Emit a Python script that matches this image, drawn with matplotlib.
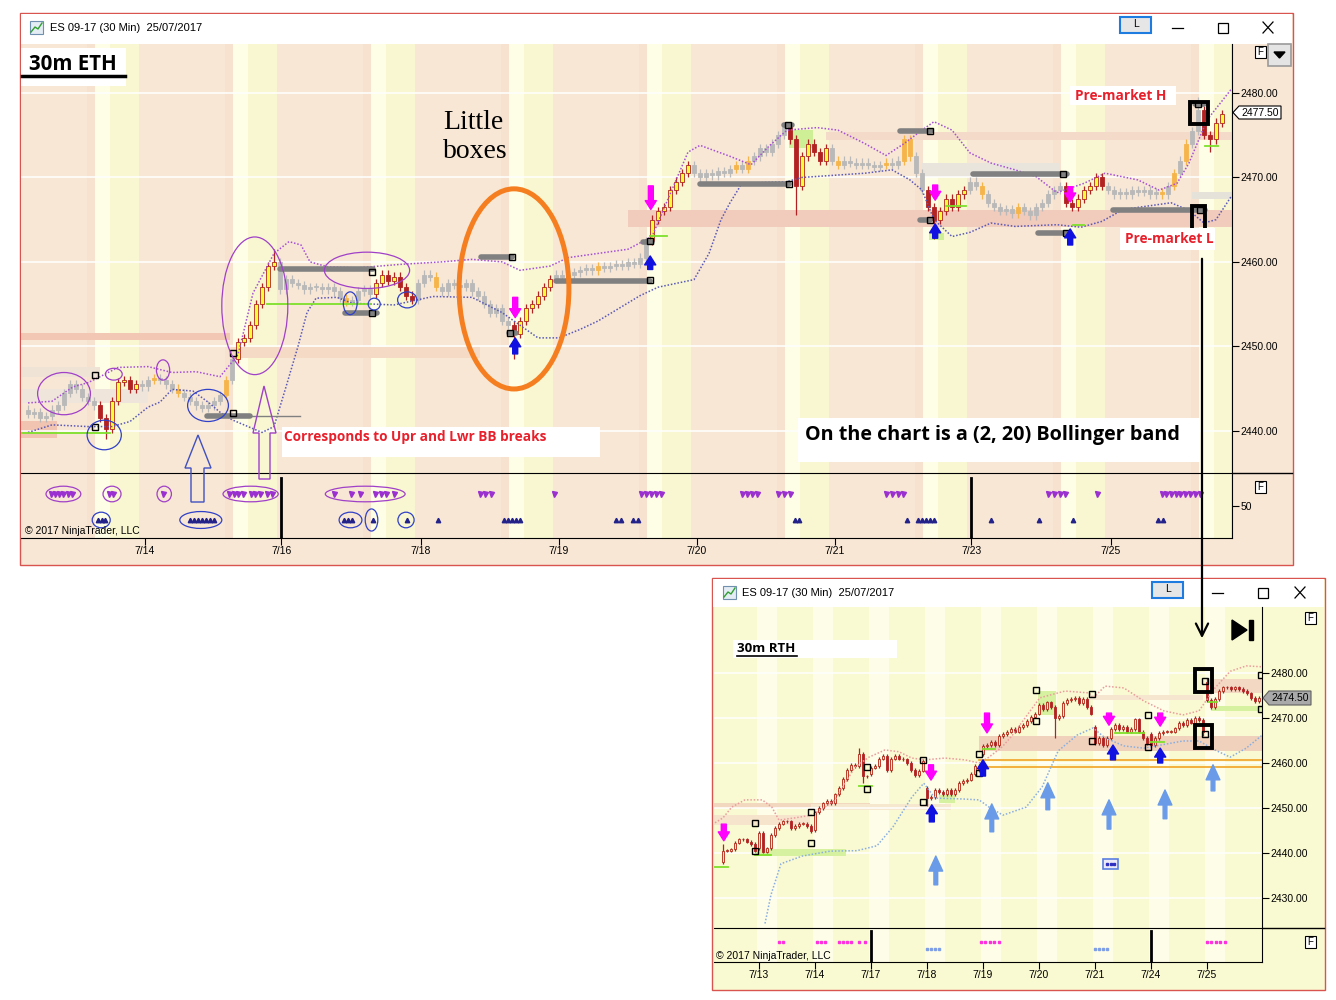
import numpy as np
import matplotlib.pyplot as plt
from matplotlib.patches import Rectangle, Ellipse, Polygon

plt.rcParams['font.family'] = ['Liberation Sans', 'DejaVu Sans']

W, H = 1336, 1000

# ---------------- top chart: ES 09-17 30 min, full session (ETH) ----------------
eth_close = [
    2442, 2442.25, 2441.5, 2441.75, 2442.5, 2443, 2444.5, 2445.5, 2445, 2444,
    2443.5, 2443, 2441.5, 2440.25, 2443.5, 2445.75, 2446, 2445, 2445.5, 2445.25,
    2446, 2446.25, 2446, 2445.5, 2445, 2444.5, 2444, 2443.5, 2443, 2442.75,
    2443, 2443.5, 2444.25, 2446, 2448.5, 2450.5, 2451, 2452.5, 2455, 2457,
    2459.5, 2460, 2456.75, 2458, 2457.5, 2457.25, 2456.75, 2457, 2457, 2456.75,
    2457, 2456.5, 2455.75, 2455.25, 2455.5, 2456.5, 2456.75, 2456.25, 2457.5, 2458.5,
    2457.75, 2458.25, 2457, 2456, 2455.5, 2457.5, 2458.5, 2458.25, 2457, 2456.5,
    2457.5, 2457.25, 2457, 2457.5, 2456.5, 2456, 2455, 2454, 2454.5, 2453,
    2452.5, 2451.5, 2453, 2454.5, 2455, 2456, 2457, 2458, 2458.5, 2458.25,
    2458.5, 2458.75, 2459, 2459.25, 2459, 2459.5, 2459.25, 2459.5, 2459.75, 2459.5,
    2460, 2459.75, 2460.5, 2462.5, 2465, 2466, 2466.5, 2468.5, 2469.5, 2470.5,
    2471.5, 2470.5, 2470, 2470.5, 2470.25, 2470.75, 2470.5, 2471, 2471.5, 2471,
    2472, 2472.5, 2473.5, 2473, 2474, 2475, 2476, 2474.5, 2469, 2472.5,
    2474, 2473, 2472, 2473.5, 2472, 2471.5, 2472, 2471.75, 2471.5, 2471.75,
    2471.5, 2471.25, 2471.5, 2471.75, 2471.5, 2472, 2474.5, 2472.5, 2470.5, 2468.5,
    2466.5, 2465, 2466, 2467.5, 2466.5, 2468, 2468.5, 2469.5, 2469, 2468,
    2467, 2466.5, 2466, 2466.25, 2465.75, 2466.5, 2466, 2465.5, 2466.5, 2467,
    2468, 2468.5, 2469, 2467, 2466.5, 2467.5, 2468.5, 2469, 2470, 2469,
    2468.5, 2468, 2468.25, 2468, 2468.5, 2468.25, 2468.5, 2468, 2468.25, 2468,
    2469, 2470.5, 2472, 2474, 2475.5, 2478, 2475, 2474.5, 2476.5, 2477.5,
]
eth_first_open = 2442.5
eth_lows = {13: 2439.0, 81: 2448.5, 128: 2465.5, 151: 2462.75, 197: 2473.0}
eth_highs = {41: 2461.5, 195: 2479.5}
eth_rth = [(11.5, 18.5), (34.5, 41.5), (57.5, 64.5), (80.5, 87.5), (103.5, 110.5),
           (126.5, 133.5), (149.5, 156.5), (172.5, 179.5), (195.5, 200.5)]
eth_orange = [21, 25, 33, 53, 68, 95, 118, 120, 135, 143, 146, 147, 159, 165, 189, 191, 193]

eth_upper_x = [0, 4, 7.5, 10, 12, 15, 20, 24, 28, 32, 35, 37.5, 41, 43.5, 45.5, 47, 50,
               55, 62, 69, 74, 79, 82, 87, 90, 95, 100, 104, 107, 110, 112, 117, 120.5,
               123.5, 126.5, 131.5, 135, 139.5, 143, 146, 149, 151, 154, 157, 160.5,
               164.5, 168, 171.5, 176, 179.5, 185, 188.5, 191.5, 193.5, 196.5, 200.5]
eth_upper = [2443.3, 2443.5, 2445.2, 2445.7, 2446.4, 2447.5, 2447.6, 2446.9, 2447, 2446.4,
             2449, 2456.3, 2461, 2462.4, 2462, 2460, 2459.4, 2459.3, 2459.7, 2460,
             2460.3, 2460, 2459, 2459.5, 2460.5, 2461, 2461.5, 2463, 2468, 2473,
             2473.8, 2472.5, 2471.5, 2473.7, 2475.6, 2475.9, 2475.6, 2474, 2472.6, 2474,
             2475.6, 2476.6, 2475.6, 2472.9, 2471.7, 2470.9, 2470.1, 2468.2, 2469.3, 2470.5,
             2469.7, 2468.5, 2469.3, 2471.7, 2476.8, 2480.4]
eth_lower_x = [0, 4, 10, 14, 17, 20, 22, 24, 27.5, 30, 32, 34, 37, 39, 41, 43, 45, 46.5,
               48, 51.5, 54, 61, 67.5, 74, 79, 82, 85, 88.5, 92, 95, 98.5, 102, 105, 111,
               113.5, 115.5, 117, 119, 126.5, 129, 139.5, 144, 147, 149, 151, 154, 157,
               160.5, 164.5, 171.5, 175.5, 179, 182.5, 190.5, 193.5, 196, 198, 200.5]
eth_lower = [2439.8, 2440.7, 2440.5, 2440.5, 2441.1, 2442.8, 2443.4, 2444.9, 2444.7, 2443.4,
             2442.2, 2441.3, 2440.4, 2439.8, 2440.5, 2445.2, 2450, 2454, 2455.7, 2455.8,
             2455.1, 2454.9, 2455.9, 2455.8, 2454, 2452.5, 2451, 2451, 2452, 2453,
             2454.5, 2456, 2457, 2457.9, 2461, 2465, 2467, 2469.3, 2469.5, 2470,
             2470.5, 2470.9, 2469.7, 2468.5, 2465, 2463, 2463.5, 2464.6, 2464.2, 2464.4,
             2464.1, 2464.8, 2466.2, 2467, 2466.1, 2464.6, 2465, 2467.7]

eth_tick_pos = [19.5, 42.2, 65.5, 88.5, 111.5, 134.5, 157.2, 180.5]
eth_tick_labels = ['7/14', '7/16', '7/18', '7/19', '7/20', '7/21', '7/23', '7/25']
eth_week_lines = [42.2, 157.2]
eth_price_ticks = [2440, 2450, 2460, 2470, 2480]

# zones: start bar, end bar, low, high
eth_zones = [(-1.2, 33.7, 2450.8, 2451.6), (33.7, 75.3, 2448.6, 2449.9), (-1.2, 4.8, 2439.2, 2441.1),
             (-1.2, 12, 2446.4, 2447.6), (-1.2, 20, 2443.3, 2444.9), (100, 200.7, 2464.1, 2466.2),
             (149, 172, 2470.1, 2471.7), (133, 200.7, 2474.4, 2475.4), (194, 200.7, 2467.4, 2468.3)]
eth_zone_colors = ['#f2c8b4', '#f5dac6', '#f0c4b0', '#efe3d6', '#efe5da', '#f1cbbb',
                   '#e9e5dd', '#f4dbc9', '#e5e2da']
eth_levels = [(29.8, 37, 2441.7), (42, 57.5, 2459.2), (52.8, 58.2, 2454), (75.5, 80.7, 2460.6),
              (80.2, 81.3, 2451.6), (88, 103.7, 2457.75), (112, 126.8, 2469.2), (126, 127.3, 2476.2),
              (145.3, 150.5, 2475.5), (157.5, 173.2, 2470.4), (168.3, 173.2, 2463.4),
              (180.8, 196.2, 2466.2), (148.7, 150.3, 2465), (194.5, 196, 2478.7), (102.5, 104, 2462.4)]
eth_green = [(-1.2, 13.7, 2439.7), (39.8, 57, 2455), (103.7, 106.5, 2463.1),
             (153, 156.3, 2466.6), (174.2, 176, 2464.4), (196.2, 198.3, 2473.7)]
eth_green_boxes = [(126.8, 130.8, 2473.5, 2475.6), (150.2, 152.7, 2462.6, 2463.4)]
eth_squares = [(11.2, 2446.6), (11.2, 2440.4), (34.2, 2449.2), (34.2, 2442.1), (57.3, 2458.8),
               (57.3, 2454), (80.3, 2451.6), (80.7, 2460.6), (103.7, 2457.8), (103.7, 2462.5),
               (126.8, 2469.2), (126.7, 2476.2), (150.3, 2475.5), (150.3, 2465), (172.5, 2470.4),
               (173, 2463.4), (195, 2478.7), (195.3, 2466.2)]
eth_sell_arrows = [(103.8, 2469, 2466.2), (81.2, 2455.8, 2453.4), (151.2, 2469.1, 2467.3), (173.7, 2468.9, 2467.1)]
eth_buy_arrows = [(103.7, 2459.1, 2460.7), (81.2, 2449.1, 2451), (151.2, 2462.8, 2464.5), (173.7, 2462, 2463.9)]

eth_ind_down = [3.8, 4.5, 5.2, 5.9, 6.6, 7.3, 13.5, 14.2, 22.5, 33.5, 34.3, 35, 35.8, 37.2, 37.9,
                38.7, 39.8, 40.7, 51, 53.8, 55.3, 57.9, 58.8, 59.6, 61, 75.3, 76.2, 77.2, 87.7,
                102.2, 103, 103.8, 104.7, 105.5, 119, 119.8, 120.7, 121.5, 125, 126, 127,
                143, 144, 145, 145.8, 170, 171, 172, 172.8, 178.2, 189, 189.7, 190.5, 191.3,
                192, 192.8, 193.6, 194.5, 195.3]
eth_ind_up = [11.6, 12.3, 12.9, 27, 27.7, 28.3, 29, 29.7, 30.3, 31, 52.7, 53.3, 54, 57.5, 63.2,
              68.3, 79.3, 80, 80.7, 81.3, 82, 98, 98.8, 100.8, 101.6, 127.8, 128.5, 146.5,
              148.3, 149, 149.7, 150.3, 151, 160.5, 168.5, 174.2, 188.3, 189.2]

# ---------------- bottom chart: ES 09-17 30 min, regular session (RTH) ----------------
rth_close = [
    2440.5, 2440.5, 2440.8, 2442.3, 2443, 2443, 2442.5, 2442, 2440.5, 2444.5,
    2440.3, 2441, 2444, 2445.5, 2446.5, 2447, 2447, 2445.5, 2446, 2446.5,
    2446.5, 2446, 2444.8, 2449, 2450, 2451, 2451.5, 2451, 2453, 2454.5,
    2456.5, 2458.5, 2459.5, 2459.3, 2462, 2457, 2457, 2459, 2459.3, 2461,
    2461.5, 2458.5, 2461, 2461.5, 2461, 2460.8, 2460, 2458.5, 2457.3, 2458.3,
    2460.5, 2452.2, 2452.5, 2454, 2453.5, 2453, 2454, 2453, 2454, 2455.5,
    2456, 2456.3, 2457.5, 2459.3, 2458.5, 2463.8, 2464, 2464.7, 2464, 2466,
    2466.5, 2467, 2467.5, 2467, 2468, 2468.5, 2469.3, 2470.3, 2471, 2473,
    2472, 2473.5, 2472.5, 2470, 2470.5, 2473.3, 2474, 2474.3, 2474.5, 2473.3,
    2474.2, 2472.5, 2471, 2464.5, 2465.5, 2464, 2465.5, 2467.5, 2468.5, 2467.5,
    2468, 2467, 2467.5, 2469.7, 2467, 2465.5, 2464.5, 2464, 2465.5, 2466.7,
    2467, 2467, 2467, 2467.7, 2469, 2468.5, 2469.5, 2469, 2470, 2469.5,
    2467, 2474, 2472.5, 2474.3, 2476, 2476.8, 2476.8, 2476.5, 2476.8, 2476.5,
    2476, 2475.5, 2474.5, 2473.8, 2474.5,
]
rth_first_open = 2438.0
rth_gap_bars = [9, 23, 37, 51, 65, 79, 93, 107, 121]
rth_gap_opens = [2441, 2445, 2457.5, 2454.5, 2462, 2471, 2468, 2466.5, 2478]
rth_lows = {0: 2437.5, 35: 2455.5, 51: 2450.5, 83: 2465.6, 120: 2466}
rth_highs = {0: 2442, 34: 2463.3, 121: 2479}

rth_upper_x = [-2, 0, 2.2, 5.5, 9.8, 12.2, 14, 18, 22.2, 25.5, 28, 30.5, 33, 36.5, 40.5, 44,
               47.2, 50.5, 55.5, 60.5, 64, 66.5, 69.8, 72.2, 75.5, 79.2, 83.8, 85.5, 91.5,
               92.5, 95.5, 100.2, 105.2, 110.2, 115, 119, 123, 126.8, 130.8, 134.8]
rth_upper = [2446.7, 2447.8, 2450.2, 2451.8, 2451.8, 2450.2, 2447.3, 2447.8, 2448.4, 2450.2,
             2451.8, 2455.5, 2459.1, 2461.3, 2462.9, 2462.5, 2461.1, 2460.7, 2461.1, 2460.7,
             2460, 2461.3, 2463.6, 2466, 2470, 2474.5, 2475.6, 2476, 2475.6, 2474.4,
             2477.1, 2476.7, 2473.8, 2471.6, 2470.7, 2471.6, 2476.7, 2480.4, 2481.6, 2481.4]
rth_lower_x = [10.5, 12, 14.5, 19.8, 26.8, 33.5, 38.5, 42.5, 47.2, 50.2, 53, 59.8, 64, 66.5,
               70, 75.8, 79.8, 83.8, 88.5, 92.5, 95.5, 100.2, 105.2, 115, 119, 123, 126.8,
               130.8, 134.8]
rth_lower = [2424.3, 2430.7, 2437.6, 2439.3, 2440.4, 2440.5, 2441.6, 2445.8, 2452.4, 2455.5,
             2452.2, 2452, 2451.8, 2450.2, 2448.4, 2450.2, 2454.7, 2462.7, 2466.2, 2467.8,
             2465.6, 2463.8, 2463.3, 2464.9, 2464.9, 2462.9, 2461.3, 2463.3, 2466.2]

rth_tick_pos = [9, 23, 37, 51, 65, 79, 93, 107, 121]
rth_tick_labels = ['7/13', '7/14', '7/17', '7/18', '7/19', '7/20', '7/21', '7/24', '7/25']
rth_week_lines = [37, 107]
rth_price_ticks = [2430, 2440, 2450, 2460, 2470, 2480]

rth_zones = [(-2.25, 36.75, 2450, 2451.1), (-2.25, 21.75, 2446.2, 2448.4), (22, 57, 2449.5, 2450.8),
             (64, 134.75, 2462.7, 2466), (91.5, 120, 2474, 2475.1), (122, 134.75, 2475.6, 2478.7)]
rth_zone_colors = ['#f3d8c0', '#f6e4cc', '#f6e8cf', '#f0d2bc', '#f6e6cf', '#f3d8c4']
rth_green_boxes = [(8, 30.8, 2439.3, 2440.9), (54, 58, 2451.1, 2452.9), (78.8, 83.2, 2470.7, 2476),
                   (122, 134.75, 2471.6, 2472.7)]
rth_green = [(-2.25, 1.2, 2436.9), (8, 12, 2439.6), (34, 37.2, 2454.9), (65, 68, 2463.1),
             (98, 105.2, 2466.7), (106.8, 110.2, 2464.7), (121.5, 123.5, 2473.6)]
rth_orange_lines = [2460.7, 2459.1]
rth_squares = [(8, 2446.7), (8, 2440.4), (22, 2449.1), (22, 2442.2), (36, 2459.1), (36, 2454.2),
               (50, 2460.7), (50, 2451.4), (64, 2462), (64, 2457.8), (78.2, 2476.2), (78.2, 2469.3),
               (92.2, 2475.3), (92.2, 2464.9), (106.2, 2470.7), (106.2, 2463.6), (120.5, 2478.2),
               (120.5, 2466.4), (134.4, 2479.6), (134.4, 2472)]
rth_sell_arrows = [(0.2, 2446.4, 2442.7), (52, 2459.6, 2456.2), (66, 2471.1, 2466.7),
                   (96.5, 2471.1, 2468.4), (109.3, 2471.1, 2468.2)]
rth_buy_arrows = [(52.2, 2446.9, 2450.7), (65, 2457.1, 2460.7), (97.5, 2460.7, 2464), (109.3, 2460, 2463.3)]
rth_big_arrows = [(53.2, 2432.9, 2439.3), (67.2, 2444.7, 2450.9), (81.2, 2449.6, 2455.6),
                  (96.5, 2445.3, 2451.8), (110.5, 2447.6, 2454), (122.5, 2453.8, 2459.6)]
rth_ind_pink = [14, 15, 23.5, 24.5, 25.5, 29, 30, 31, 32, 34, 35.5, 64.5, 65.6, 66.7, 67.8, 69,
                121, 122.1, 123.2, 124.3, 125.4]
rth_ind_blue = [51, 52, 53, 54, 93, 94, 95, 96]

PEACH = '#f8e7d5'
LEMON = '#fafad2'
RED = '#b22222'


def px_rect(x0, y0, x1, y1):
    return [x0 / W, 1 - y1 / H, (x1 - x0) / W, (y1 - y0) / H]


def opens_from(closes, first, gap_bars=(), gap_opens=()):
    o = [first] + list(closes[:-1])
    for b, v in zip(gap_bars, gap_opens):
        o[b] = v
    return np.array(o)


def draw_candles(ax, closes, opens, lows, highs, rth_mask, orange, width, pad):
    c = np.array(closes)
    x = np.arange(len(c))
    lo_b = np.minimum(opens, c)
    hi_b = np.maximum(opens, c)
    h = np.maximum(hi_b - lo_b, 0.2)
    lo_w = lo_b - pad
    hi_w = hi_b + pad
    for b, v in lows.items():
        lo_w[b] = v
    for b, v in highs.items():
        hi_w[b] = v
    faces, edges = [], []
    for i in x:
        if rth_mask[i]:
            if c[i] >= opens[i]:
                faces.append('#ffff33')
            else:
                faces.append(RED)
            edges.append(RED)
        elif i in orange:
            faces.append('#f5b54a')
            edges.append('#f5b54a')
        else:
            faces.append('#b9b9b9')
            edges.append('#b9b9b9')
    ax.vlines(x, lo_w, hi_w, colors=edges, lw=0.9, zorder=3)
    ax.bar(x, h, width=width, bottom=lo_b, color=faces, edgecolor=edges, linewidth=0.6, zorder=3.1)


def setup_price(ax, xlim, ylim, face, ticks):
    ax.set_facecolor(face)
    ax.set_xlim(*xlim)
    ax.set_ylim(*ylim)
    ax.yaxis.tick_right()
    ax.set_yticks(ticks)
    ax.set_yticklabels([f'{v:.2f}' for v in ticks], fontsize=7.5)
    ax.tick_params(axis='y', length=5, width=0.8, pad=1)
    ax.set_xticks([])
    for s in ['left', 'top', 'bottom']:
        ax.spines[s].set_visible(False)
    for v in ticks:
        ax.axhline(v, color='white', lw=1.1, zorder=1.2)


def setup_ind(ax, xlim, face, ticks, labels, weeks):
    ax.set_facecolor(face)
    ax.set_xlim(*xlim)
    ax.set_ylim(0, 100)
    ax.set_xticks(ticks)
    ax.set_xticklabels(labels, fontsize=7.5)
    ax.tick_params(axis='x', length=5, width=0.8, pad=1)
    ax.yaxis.tick_right()
    ax.spines['left'].set_visible(False)
    for v in weeks:
        ax.axvline(v, ymin=0, ymax=0.92, color='black', lw=2, zorder=4)


fig = plt.figure(figsize=(W / 100, H / 100), dpi=100)
fig.patch.set_facecolor('white')

# window frames behind everything
bg = fig.add_axes([0, 0, 1, 1])
bg.set_xlim(0, W)
bg.set_ylim(H, 0)
bg.axis('off')
for (x0, y0, x1, y1, face) in [(20, 13, 1293, 565, PEACH), (712, 578, 1325, 990, LEMON)]:
    bg.add_patch(Rectangle((x0, y0), x1 - x0, y1 - y0, facecolor=face, edgecolor='#d9534f', lw=1))
    bg.add_patch(Rectangle((x0 + 1, y0 + 1), x1 - x0 - 2, 30 if y0 < 100 else 28, facecolor='white', edgecolor='none'))
bg.plot([1232, 1292], [473, 473], color='black', lw=1)
bg.plot([1262, 1324], [928, 928], color='black', lw=1)

for (x0, y0, title_x, lx, mx, cx) in [(30, 21, 50, 1120, 1172, 1263), (723, 586, 742, 1152, 1212, 1295)]:
    bg.add_patch(Rectangle((x0, y0), 13, 13, facecolor='#e4ecf4', edgecolor='#7090b0', lw=0.8))
    bg.plot([x0 + 1, x0 + 5, x0 + 8, x0 + 12], [y0 + 11, y0 + 6, y0 + 8, y0 + 2], color='#30a030', lw=1)
    bg.text(title_x, y0 + 7, 'ES 09-17 (30 Min)  25/07/2017', fontsize=8, va='center')
    bg.add_patch(Rectangle((lx, y0 - 4), 31, 16, facecolor='#e6e6e6', edgecolor='#1e7be0', lw=1.5))
    bg.text(lx + 15.5, y0 + 3, 'L', fontsize=7.5, ha='center', va='center')
    bg.plot([mx, mx + 11], [y0 + 7, y0 + 7], color='black', lw=0.9)
    bg.add_patch(Rectangle((mx + 46, y0 + 2), 10, 10, facecolor='none', edgecolor='black', lw=0.9))
    bg.plot([cx, cx + 10], [y0 + 1, y0 + 12], color='black', lw=0.9)
    bg.plot([cx, cx + 10], [y0 + 12, y0 + 1], color='black', lw=0.9)

for (fx, fy) in [(1255, 46), (1255, 481), (1305, 612), (1305, 936)]:
    bg.add_patch(Rectangle((fx, fy), 11, 12, facecolor='white', edgecolor='black', lw=0.8))
    bg.text(fx + 5.5, fy + 6, 'F', fontsize=7, ha='center', va='center')
bg.add_patch(Rectangle((1268, 44), 23, 22, facecolor='#e4e4e4', edgecolor='#9a9a9a', lw=1.2))
bg.add_patch(Polygon([(1274, 52), (1285, 52), (1279.5, 58)], closed=True, color='black'))

# ---------------- top price panel ----------------
ax1 = fig.add_axes(px_rect(21, 44, 1232, 473))
setup_price(ax1, (-1.17, 200.67), (2435.0, 2485.8), PEACH, eth_price_ticks)
ax1i = fig.add_axes(px_rect(21, 473, 1232, 538))
setup_ind(ax1i, (-1.17, 200.67), PEACH, eth_tick_pos, eth_tick_labels, eth_week_lines)
ax1i.set_yticks([50])
ax1i.set_yticklabels(['50'], fontsize=7.5)
ax1i.tick_params(axis='y', length=5, width=0.8, pad=1)

for a in (ax1, ax1i):
    for (s, e) in eth_rth:
        a.axvspan(s - 0.3, s + 2.2, color='#fefde6', lw=0, zorder=0.5)
        a.axvspan(s + 2.2, e, color='#f8f7d2', lw=0, zorder=0.5)
        a.axvspan(s - 1.6, s - 0.3, color='#f6e2cf', lw=0, zorder=0.5)

for (s, e, lo, hi), col in zip(eth_zones, eth_zone_colors):
    ax1.add_patch(Rectangle((s, lo), e - s, hi - lo, facecolor=col, lw=0, zorder=1))

eth_mask = [any(s <= i <= e for (s, e) in eth_rth) for i in range(len(eth_close))]
eth_open = opens_from(eth_close, eth_first_open)
draw_candles(ax1, eth_close, eth_open, eth_lows, eth_highs, eth_mask, eth_orange, 0.75, 0.5)

ax1.plot(eth_upper_x, eth_upper, ls=(0, (1, 1.2)), color='#a54fd6', lw=1.1, zorder=4)
ax1.plot(eth_lower_x, eth_lower, ls=(0, (1, 1.2)), color='#5a58b8', lw=1.1, zorder=4)

for (s, e, p) in eth_levels:
    ax1.plot([s, e], [p, p], color='#808080', lw=4, solid_capstyle='round', zorder=4.2)
ax1.plot([37, 45.3], [2441.7, 2441.7], color='#808080', lw=1, zorder=4.2)
for (s, e, p) in eth_green:
    ax1.plot([s, e], [p, p], color='#7ee02a', lw=1.3, zorder=4.1)
for (s, e, lo, hi) in eth_green_boxes:
    ax1.add_patch(Rectangle((s, lo), e - s, hi - lo, facecolor='#c8ee8c', lw=0, alpha=0.85, zorder=2.8))
ax1.plot([p[0] for p in eth_squares], [p[1] for p in eth_squares], 's', ms=5, mfc='none',
         mec='black', mew=1, zorder=4.5)

for (b, tail, tip) in eth_sell_arrows:
    ax1.annotate('', xy=(b, tip), xytext=(b, tail),
                 arrowprops=dict(arrowstyle='simple,head_width=1.0,head_length=0.8,tail_width=0.45',
                                 color='#ff00ff', mutation_scale=8, shrinkA=0, shrinkB=0), zorder=6)
for (b, tail, tip) in eth_buy_arrows:
    ax1.annotate('', xy=(b, tip), xytext=(b, tail),
                 arrowprops=dict(arrowstyle='simple,head_width=1.0,head_length=0.8,tail_width=0.45',
                                 color='#1010e0', mutation_scale=8, shrinkA=0, shrinkB=0), zorder=6)

# hand-drawn style markup on the top chart
ax1.add_patch(Ellipse((81, 2456.8), 18.3, 23.7, fill=False, edgecolor='#f57f20', lw=3.6, zorder=7))
for (cx, cy, w, h) in [(37.8, 2454.8, 11, 16.3), (6, 2444.4, 8.8, 5), (14.3, 2446.7, 2.8, 1.4),
                       (22.5, 2447.2, 2.2, 2.4), (56.5, 2459, 14.2, 4.3)]:
    ax1.add_patch(Ellipse((cx, cy), w, h, fill=False, edgecolor='#a040c8', lw=0.9, zorder=7))
for (cx, cy, w, h) in [(30, 2443, 6.8, 3.8), (12.7, 2439.5, 5.7, 3.5), (53.7, 2455.1, 2.3, 2.7),
                       (57.7, 2455, 2, 1.4), (63.2, 2455.5, 3.2, 1.9)]:
    ax1.add_patch(Ellipse((cx, cy), w, h, fill=False, edgecolor='#3040c8', lw=0.9, zorder=7))
ax1.add_patch(Rectangle((193.7, 2476.3), 3, 2.6, fill=False, edgecolor='black', lw=2.8, zorder=7))
ax1.add_patch(Rectangle((194, 2463.8), 2.2, 2.8, fill=False, edgecolor='black', lw=2.8, zorder=7))

ax1i.plot(eth_ind_down, [67.7] * len(eth_ind_down), 'v', ms=3.6, color='#9a30d0', zorder=5)
ax1i.plot(eth_ind_up, [27.7] * len(eth_ind_up), '^', ms=3.2, color='#22228a', zorder=5)
for (cx, w) in [(5.9, 5.8), (14, 3), (22.7, 2.4), (37.1, 9.2), (56.2, 13.3)]:
    ax1i.add_patch(Ellipse((cx, 67.7), w, 24, fill=False, edgecolor='#a040c8', lw=0.9, zorder=6))
for (cx, w, h) in [(12.2, 3, 24), (28.8, 7, 26), (53.75, 3.8, 24), (57.25, 2.1, 34), (63, 2.7, 24)]:
    ax1i.add_patch(Ellipse((cx, 27.7), w, h, fill=False, edgecolor='#3040c8', lw=0.9, zorder=6))
ax1i.text(0.003, 0.06, '© 2017 NinjaTrader, LLC', transform=ax1i.transAxes, fontsize=7.5, zorder=6)

# ---------------- bottom price panel ----------------
ax2 = fig.add_axes(px_rect(714, 607, 1262, 928))
setup_price(ax2, (-2.25, 134.75), (2423.3, 2494.7), LEMON, rth_price_ticks)
ax2i = fig.add_axes(px_rect(714, 928, 1262, 962))
setup_ind(ax2i, (-2.25, 134.75), LEMON, rth_tick_pos, rth_tick_labels, rth_week_lines)
ax2i.set_yticks([])
for a in (ax2, ax2i):
    for d in rth_tick_pos:
        a.axvspan(d - 0.5, d + 4.5, color='#fdfde8', lw=0, zorder=0.5)

for (s, e, lo, hi), col in zip(rth_zones, rth_zone_colors):
    ax2.add_patch(Rectangle((s, lo), e - s, hi - lo, facecolor=col, lw=0, zorder=1))
for (s, e, lo, hi) in rth_green_boxes:
    ax2.add_patch(Rectangle((s, lo), e - s, hi - lo, facecolor='#d6f2a0', lw=0, zorder=1.3))
for p in rth_orange_lines:
    ax2.plot([64, 134.75], [p, p], color='#f2a324', lw=1.2, zorder=2)

rth_open = opens_from(rth_close, rth_first_open, rth_gap_bars, rth_gap_opens)
draw_candles(ax2, rth_close, rth_open, rth_lows, rth_highs, [True] * len(rth_close), [], 0.7, 0.4)

ax2.plot(rth_upper_x, rth_upper, ls=(0, (1, 1.2)), color='#eb9c9c', lw=1.1, zorder=4)
ax2.plot(rth_lower_x, rth_lower, ls=(0, (1, 1.2)), color='#8aaee0', lw=1.1, zorder=4)
for (s, e, p) in rth_green:
    ax2.plot([s, e], [p, p], color='#7ee02a', lw=1.3, zorder=4.1)
ax2.plot([p[0] for p in rth_squares], [p[1] for p in rth_squares], 's', ms=5, mfc='none',
         mec='black', mew=1, zorder=4.5)
for (b, tail, tip) in rth_sell_arrows:
    ax2.annotate('', xy=(b, tip), xytext=(b, tail),
                 arrowprops=dict(arrowstyle='simple,head_width=1.0,head_length=0.8,tail_width=0.45',
                                 color='#ff00ff', mutation_scale=8, shrinkA=0, shrinkB=0), zorder=6)
for (b, tail, tip) in rth_buy_arrows:
    ax2.annotate('', xy=(b, tip), xytext=(b, tail),
                 arrowprops=dict(arrowstyle='simple,head_width=1.0,head_length=0.8,tail_width=0.45',
                                 color='#1010e0', mutation_scale=8, shrinkA=0, shrinkB=0), zorder=6)
for (b, tail, tip) in rth_big_arrows:
    ax2.annotate('', xy=(b, tip), xytext=(b, tail),
                 arrowprops=dict(arrowstyle='simple,head_width=1.1,head_length=1.2,tail_width=0.3',
                                 color='#6a9be8', mutation_scale=9, shrinkA=0, shrinkB=0), zorder=6)
ax2.add_patch(Rectangle((118, 2475.8), 4.3, 5.1, fill=False, edgecolor='black', lw=2.8, zorder=7))
ax2.add_patch(Rectangle((118, 2463.3), 4.3, 5.1, fill=False, edgecolor='black', lw=2.8, zorder=7))

ax2i.plot(rth_ind_pink, [59] * len(rth_ind_pink), 's', ms=2, color='#ff30e0', zorder=5)
ax2i.plot(rth_ind_blue, [38] * len(rth_ind_blue), 's', ms=2, color='#7e9ee6', zorder=5)
ax2i.text(0.003, 0.1, '© 2017 NinjaTrader, LLC', transform=ax2i.transAxes, fontsize=7.5, zorder=6)

# ---------------- foreground notes (figure pixels) ----------------
fg = fig.add_axes([0, 0, 1, 1])
fg.set_xlim(0, W)
fg.set_ylim(H, 0)
fg.axis('off')
fg.patch.set_alpha(0)


def note_box(x0, y0, x1, y1):
    fg.add_patch(Rectangle((x0, y0), x1 - x0, y1 - y0, facecolor='white', edgecolor='none', zorder=3))


note_box(21, 48, 126, 86)
fg.text(29, 64, '30m ETH', fontsize=14.8, fontweight='bold', family=['Open Sans', 'DejaVu Sans'],
        va='center', zorder=4)
fg.plot([22, 125], [76, 76], color='black', lw=2.5, zorder=4)
fg.text(443, 137, 'Little\nboxes', fontsize=20, family=['Liberation Serif', 'DejaVu Serif'],
        va='center', ha='left', zorder=4)
note_box(282, 427, 600, 457)
fg.text(284, 437, 'Corresponds to Upr and Lwr BB breaks', fontsize=9.8, fontweight='bold',
        color='#e8202c', family=['Open Sans', 'DejaVu Sans'], va='center', zorder=4)
note_box(1070, 86, 1176, 105)
fg.text(1075, 96, 'Pre-market H', fontsize=9.8, fontweight='bold', color='#e8202c',
        family=['Open Sans', 'DejaVu Sans'], va='center', zorder=4)
note_box(1120, 228, 1215, 250)
fg.text(1125, 239, 'Pre-market L', fontsize=9.8, fontweight='bold', color='#e8202c',
        family=['Open Sans', 'DejaVu Sans'], va='center', zorder=4)
note_box(798, 418, 1200, 462)
fg.text(805, 435, 'On the chart is a (2, 20) Bollinger band', fontsize=14.2, fontweight='bold',
        family=['Open Sans', 'DejaVu Sans'], va='center', zorder=4)
note_box(733, 640, 897, 658)
fg.text(737, 649, '30m RTH', fontsize=9.5, fontweight='bold', family=['Open Sans', 'DejaVu Sans'],
        va='center', zorder=4)
fg.plot([737, 797], [656, 656], color='black', lw=1.2, zorder=4)

# hollow up arrows pointing at the indicator rows
fg.add_patch(Polygon([(198, 435), (211, 468), (204, 468), (204, 502), (191, 502), (191, 468), (185, 468)],
                     closed=True, fill=False, edgecolor='#4050c0', lw=1, zorder=4))
fg.add_patch(Polygon([(264, 386), (276, 433), (270, 433), (270, 479), (259, 479), (259, 433), (253, 433)],
                     closed=True, fill=False, edgecolor='#a040c8', lw=1, zorder=4))

# long arrow linking the two charts
fg.annotate('', xy=(1202, 641), xytext=(1202, 256),
            arrowprops=dict(arrowstyle='->', lw=1.6, color='black', mutation_scale=22), zorder=5)

# last price flags
fg.add_patch(Polygon([(1233, 112.5), (1239, 106), (1281, 106), (1281, 119), (1239, 119)], closed=True,
                     facecolor='white', edgecolor='black', lw=0.8, zorder=4))
fg.text(1260, 112.5, '2477.50', fontsize=7.5, ha='center', va='center', zorder=5)
fg.add_patch(Polygon([(1263, 698), (1269, 691), (1311, 691), (1311, 705), (1269, 705)], closed=True,
                     facecolor='#a9a9a9', edgecolor='#606060', lw=0.8, zorder=4))
fg.text(1290, 698, '2474.50', fontsize=7.5, ha='center', va='center', zorder=5)

# go-to-end button and alert icon on the RTH chart
fg.add_patch(Polygon([(1232, 620), (1232, 640), (1247, 630)], closed=True, color='black', zorder=4))
fg.add_patch(Rectangle((1249, 620), 4, 20, color='black', zorder=4))
fg.add_patch(Rectangle((1103, 859), 15, 10, facecolor='#eceaf8', edgecolor='#5a7ee0', lw=1.2, zorder=4))
fg.plot([1107, 1110.5, 1114], [864, 864, 864], 's', ms=1.5, color='#3030c0', zorder=5)

fig.savefig('out.png', dpi=100)
